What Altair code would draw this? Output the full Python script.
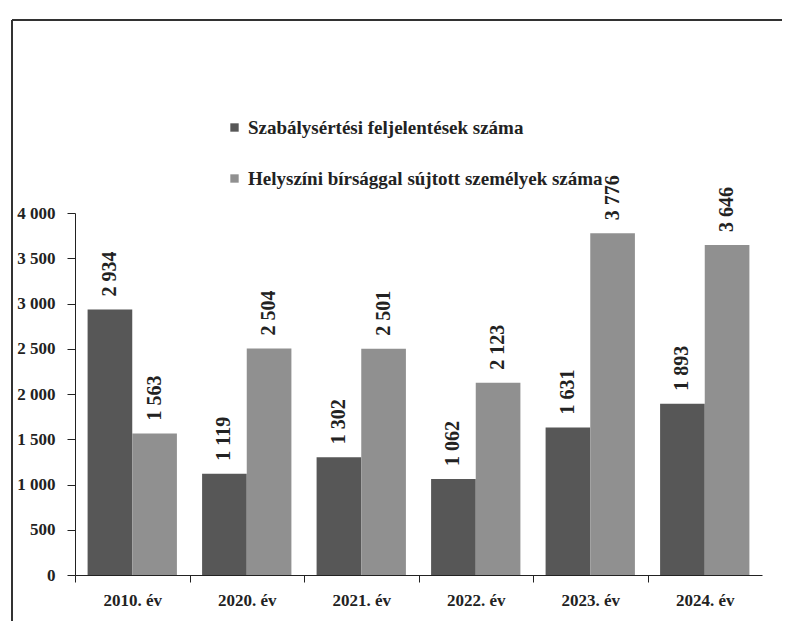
import altair as alt
import pandas as pd

years = ["2010. év", "2020. év", "2021. év", "2022. év", "2023. év", "2024. év"]
series = ["Szabálysértési feljelentések száma",
          "Helyszíni bírsággal sújtott személyek száma"]
feljelentes = [2934, 1119, 1302, 1062, 1631, 1893]
birsag = [1563, 2504, 2501, 2123, 3776, 3646]
y_ticks = [0, 500, 1000, 1500, 2000, 2500, 3000, 3500, 4000]

rows = []
for i, yr in enumerate(years):
    rows.append({"ev": yr, "sorozat": series[0], "ertek": feljelentes[i]})
    rows.append({"ev": yr, "sorozat": series[1], "ertek": birsag[i]})
df = pd.DataFrame(rows)
df["cimke"] = df["ertek"].map(lambda v: f"{v:,}".replace(",", " "))

FONT = "Times New Roman"

x = alt.X("ev:N", sort=years, title=None,
          scale=alt.Scale(paddingInner=0.22, paddingOuter=0.11),
          axis=alt.Axis(labelAngle=0, labelFont=FONT, labelFontSize=17,
                        labelFontWeight="bold", labelColor="#222",
                        labelPadding=10, tickSize=7, tickOffset=-57,
                        labelOffset=57,
                        tickColor="#222", domainColor="#222", tickWidth=1))
xoff = alt.XOffset("sorozat:N", sort=series)
y = alt.Y("ertek:Q", title=None,
          scale=alt.Scale(domain=[0, 4000], nice=False),
          axis=alt.Axis(values=y_ticks, labelFont=FONT, labelFontSize=17,
                        labelFontWeight="bold", labelColor="#222",
                        labelExpr="replace(format(datum.value, ','), ',', ' ')",
                        tickSize=8, tickColor="#222", domainColor="#222",
                        labelPadding=12, grid=False))
color = alt.Color("sorozat:N", sort=series,
                  scale=alt.Scale(domain=series, range=["#575757", "#909090"]),
                  legend=alt.Legend(title=None, orient="none", legendX=150,
                                    legendY=-95, labelFont=FONT,
                                    labelFontSize=19, labelFontWeight="bold",
                                    labelColor="#222", symbolType="square",
                                    symbolSize=70, rowPadding=31,
                                    labelLimit=600))

bars = alt.Chart(df).mark_bar().encode(x=x, xOffset=xoff, y=y, color=color)

labels = alt.Chart(df).mark_text(
    angle=270, align="left", baseline="middle", dx=13,
    font=FONT, fontSize=20, fontWeight="bold", color="#222"
).encode(x=alt.X("ev:N", sort=years), xOffset=xoff, y="ertek:Q", text="cimke:N")

frame_v = alt.Chart(df).mark_rule(color="#333", strokeWidth=1.2).encode(
    x=alt.value(-63), y=alt.value(-193), y2=alt.value(420))
frame_h = alt.Chart(df).mark_rule(color="#333", strokeWidth=1.2).encode(
    x=alt.value(-63), x2=alt.value(720), y=alt.value(-193))

chart = alt.layer(bars, labels, frame_v, frame_h).properties(
    width=687, height=362,
    autosize=alt.AutoSizeParams(type="none"),
    padding={"left": 67, "top": 205, "right": 20, "bottom": 50},
).configure(background="white").configure_view(stroke=None)

chart.save("out.html", embed_options={"renderer": "svg", "actions": False})
